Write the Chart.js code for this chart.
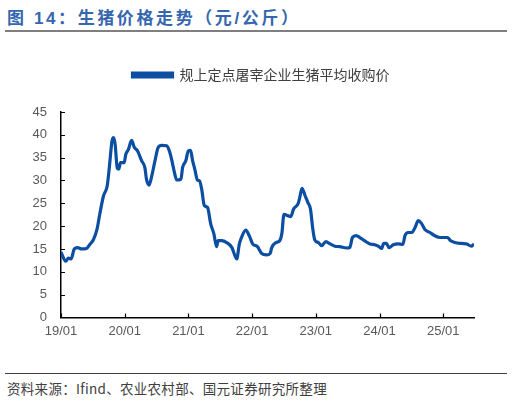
<!DOCTYPE html>
<html>
<head>
<meta charset="utf-8">
<script src="https://cdn.jsdelivr.net/npm/chart.js@4"></script>
<style>
  html, body { margin:0; padding:0; width:513px; height:403px; background:#fff; overflow:hidden; }
  #title { position:absolute; left:7px; top:4px; font: bold 17px "Liberation Sans","Noto Sans CJK SC",sans-serif; color:#3566AE; letter-spacing:2.6px; white-space:nowrap; }
  #rule1 { position:absolute; left:5px; top:30px; width:502px; height:2px; background:#7f7f7f; }
  #rule2 { position:absolute; left:5px; top:373px; width:502px; height:1px; background:#404040; }
  #source { position:absolute; left:7px; top:378px; font: 13.5px "Noto Sans CJK SC",sans-serif; color:#404040; white-space:nowrap; letter-spacing:0.3px; }
  #wrap { position:absolute; left:0; top:40px; width:513px; height:310px; }
</style>
</head>
<body>
<div id="title">图 14：生猪价格走势（元/公斤）</div>
<div id="rule1"></div>
<div id="wrap"><canvas id="c"></canvas></div>
<div id="rule2"></div>
<div id="source">资料来源：Ifind、农业农村部、国元证券研究所整理</div>
<script>
const seriesName = '规上定点屠宰企业生猪平均收购价';
const tickLabels = ['19/01','20/01','21/01','22/01','23/01','24/01','25/01'];
// months since 2019/01
const monthOffsets = [0,0.9,1.4,1.9,2.5,3.1,3.9,4.8,5.5,6.1,6.8,7.3,8.0,8.7,9.1,9.6,9.9,10.2,10.6,10.9,11.2,11.9,12.2,12.7,13.3,13.8,14.4,15.2,15.8,16.1,16.6,17.1,17.7,18.3,19.0,19.9,20.4,20.9,21.3,21.8,22.6,22.9,23.5,24.0,24.4,24.8,25.2,25.7,26.1,26.5,27.0,27.6,28.2,28.8,29.3,29.6,30.3,31.2,32.2,33.1,33.6,34.0,34.8,35.5,36.1,37.0,37.8,38.7,39.4,39.7,40.5,41.2,41.6,42.0,42.5,43.3,43.8,44.7,45.0,45.4,46.0,46.5,47.0,47.4,47.8,48.5,49.1,49.9,50.7,51.6,52.5,53.8,54.4,54.9,55.6,56.3,57.3,58.2,59.1,59.9,60.4,60.8,61.3,61.8,62.6,63.5,64.4,64.8,65.4,66.1,66.7,67.3,67.9,68.6,69.5,70.4,71.4,72.1,72.8,73.4,74.2,75.5,76.4,77.3,77.8];
const prices = [14.3,12.3,13.0,12.8,15.0,15.3,15.0,15.1,16.1,17.0,19.4,22.6,26.6,28.8,32.8,38.6,39.4,37.9,32.7,32.5,33.9,33.9,35.7,36.8,38.8,37.3,36.5,34.3,32.8,30.3,29.0,31.0,34.3,37.2,37.7,37.6,36.5,34.3,32.1,30.1,30.3,32.8,34.3,36.5,36.6,34.3,32.5,30.1,29.9,28.1,24.5,24.1,20.5,18.3,15.5,16.8,16.8,16.4,15.3,12.8,16.1,17.5,19.1,17.8,16.1,15.5,14.0,13.7,14.0,15.3,16.4,16.8,18.3,22.6,22.4,22.1,23.7,25.0,26.4,28.3,26.6,25.2,23.7,19.7,17.0,16.4,15.7,16.6,16.1,15.6,15.5,15.2,15.3,17.5,17.9,17.5,16.7,16.1,15.9,15.5,15.1,16.2,16.2,15.3,15.9,16.1,16.0,17.9,18.6,18.6,19.7,21.2,20.6,19.2,18.6,17.9,17.5,17.5,17.5,16.8,16.4,16.2,16.1,15.6,16.1];
const yTicks = [0,5,10,15,20,25,30,35,40,45];

const points = monthOffsets.map((m, i) => ({x: m, y: prices[i]}));

const legendSpace = {
  id: 'legendSpace',
  beforeInit(chart) {
    const lg = chart.legend;
    const origFit = lg.fit;
    lg.fit = function() {
      origFit.call(this);
      this.height += 20;
    };
    const origDraw = lg.draw;
    lg.draw = function() {
      const ctx = this.ctx;
      ctx.save();
      ctx.translate(24, 0);
      origDraw.call(this);
      ctx.restore();
    };
  }
};

const innerTicks = {
  id: 'innerTicks',
  afterDraw(chart) {
    const ctx = chart.ctx;
    const xs = chart.scales.x, ys = chart.scales.y;
    const area = chart.chartArea;
    ctx.save();
    ctx.strokeStyle = '#000';
    ctx.lineWidth = 1.2;
    ctx.beginPath();
    ys.ticks.forEach(t => {
      const py = Math.round(ys.getPixelForValue(t.value)) + 0.5;
      ctx.moveTo(area.left, py); ctx.lineTo(area.left + 4, py);
    });
    xs.ticks.forEach(t => {
      const px = Math.round(xs.getPixelForValue(t.value)) + 0.5;
      ctx.moveTo(px, area.bottom); ctx.lineTo(px, area.bottom - 4);
    });
    ctx.stroke();
    ctx.restore();
  }
};

new Chart(document.getElementById('c'), {
  type: 'line',
  data: {
    datasets: [{
      label: seriesName,
      data: points,
      borderColor: '#0C4EA2',
      backgroundColor: '#0C4EA2',
      borderWidth: 3.2,
      pointRadius: 0,
      tension: 0.35,
      cubicInterpolationMode: 'monotone'
    }]
  },
  options: {
    responsive: true,
    maintainAspectRatio: false,
    animation: false,
    layout: { padding: { left: 0, right: 39, top: 8, bottom: 5 } },
    plugins: {
      legend: {
        display: true,
        position: 'top',
        labels: {
          boxWidth: 40,
          boxHeight: 4,
          padding: 20,
          color: '#404040',
          font: { family: '"Noto Sans CJK SC", sans-serif', size: 14 }
        }
      },
      tooltip: { enabled: false }
    },
    scales: {
      x: {
        type: 'linear',
        min: 0,
        max: 77.8,
        afterBuildTicks(scale) { scale.ticks = tickLabels.map((_, i) => ({ value: i * 12 })); },
        ticks: {
          callback: (v) => tickLabels[Math.round(v / 12)],
          color: '#595959',
          font: { family: '"Liberation Sans", Arial, sans-serif', size: 13 },
          padding: 6,
          maxRotation: 0
        },
        grid: { display: false, drawTicks: false },
        border: { display: true, color: '#000', width: 1.5 }
      },
      y: {
        min: 0,
        max: 45,
        afterBuildTicks(scale) { scale.ticks = yTicks.map(v => ({ value: v })); },
        afterFit(scale) { scale.width = 61; },
        ticks: {
          color: '#595959',
          font: { family: '"Liberation Sans", Arial, sans-serif', size: 13 },
          padding: 14
        },
        grid: { display: false, drawTicks: false },
        border: { display: true, color: '#000', width: 1.5 }
      }
    }
  },
  plugins: [legendSpace, innerTicks]
});
</script>
</body>
</html>
